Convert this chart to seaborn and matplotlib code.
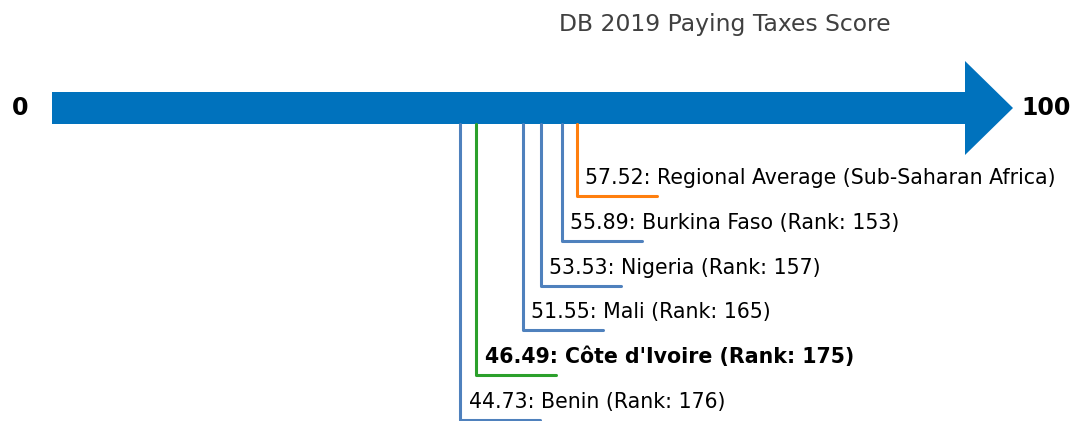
import pandas as pd
import matplotlib
matplotlib.use("Agg")
import matplotlib.pyplot as plt
import seaborn as sns
from matplotlib.patches import Polygon

# Data
countries = ["Regional Average (Sub-Saharan Africa)", "Burkina Faso", "Nigeria",
             "Mali", "Côte d'Ivoire", "Benin"]
scores = [57.52, 55.89, 53.53, 51.55, 46.49, 44.73]
ranks = [None, 153, 157, 165, 175, 176]
colors = ["#ff7f0e", "#4f81bd", "#4f81bd", "#4f81bd", "#2ca02c", "#4f81bd"]

sns.set_theme(style="white")
plt.rcParams['font.family'] = ['DejaVu Sans']

fig = plt.figure(figsize=(10.71, 4.21), dpi=100)
ax = fig.add_axes([0, 0, 1, 1])

# x in score units, y in pixel units (top = 0)
px = 9.13
head = 48 / px
seg = 80 / px

# big arrow from 0 to 100
arrow = Polygon([(0, 92), (100, 92), (100, 61), (100 + head, 108),
                 (100, 155), (100, 124), (0, 124)],
                closed=True, facecolor="#0072bd", edgecolor="none")
ax.add_patch(arrow)

ax.text(-3.5, 108, "0", fontsize=17, fontweight="bold", color="black",
        ha="center", va="center")
ax.text(108.9, 108, "100", fontsize=17, fontweight="bold", color="black",
        ha="center", va="center")
ax.text(73.7, 25, "DB 2019 Paying Taxes Score", fontsize=16.9, color="#404040",
        ha="center", va="center")

# leader lines
rows = []
for i, (c, s) in enumerate(zip(countries, scores)):
    level = 196 + 44.8 * i
    rows.append({"country": c, "x": s, "y": 124})
    rows.append({"country": c, "x": s, "y": level})
    rows.append({"country": c, "x": s + seg, "y": level})
df = pd.DataFrame(rows)

sns.lineplot(data=df, x="x", y="y", hue="country", units="country",
             estimator=None, sort=False, palette=dict(zip(countries, colors)),
             linewidth=2.2, legend=False, ax=ax)

for i, (c, s, r) in enumerate(zip(countries, scores, ranks)):
    level = 196 + 44.8 * i
    if r is None:
        label = f"{s:.2f}: {c}"
    else:
        label = f"{s:.2f}: {c} (Rank: {r})"
    weight = "bold" if c == "Côte d'Ivoire" else "normal"
    ax.text(s + 0.9, level - 18, label, fontsize=14.8, fontweight=weight,
            ha="left", va="center", color="black")

ax.set_xlim(-52 / px, (1071 - 52) / px)
ax.set_ylim(421, 0)
ax.axis("off")

fig.savefig("out.png", dpi=100)
